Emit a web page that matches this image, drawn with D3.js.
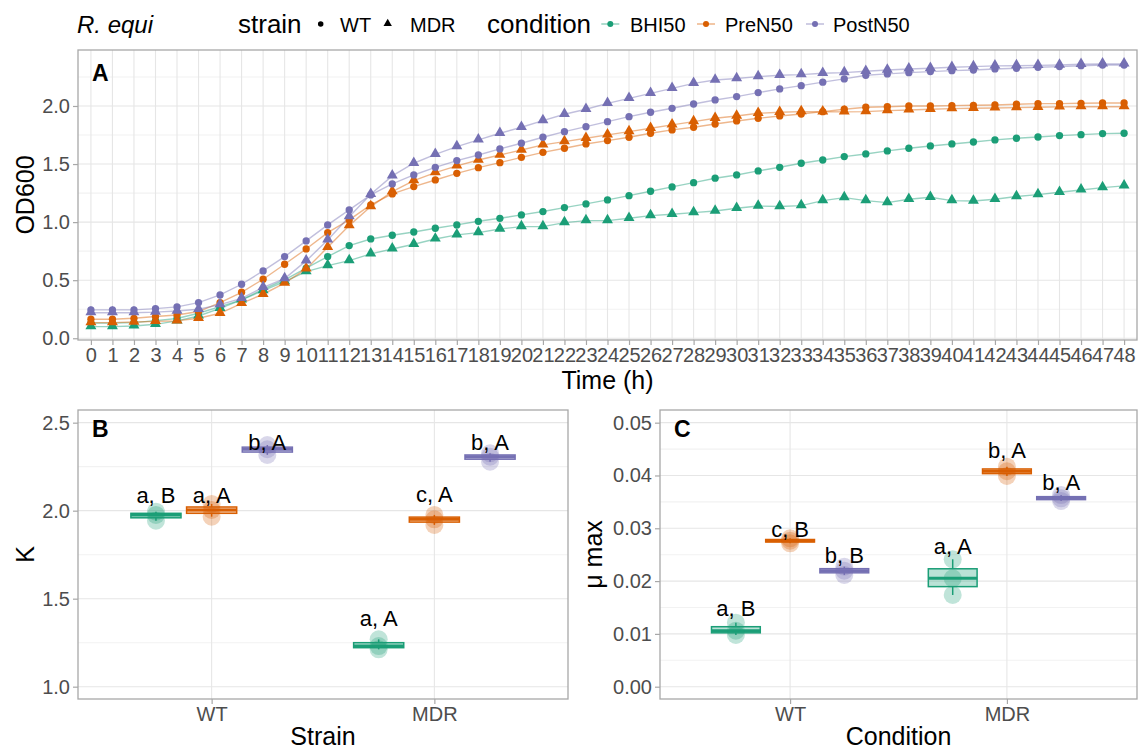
<!DOCTYPE html>
<html><head><meta charset="utf-8">
<script src="https://cdn.jsdelivr.net/npm/d3@7"></script>
<style>
body{margin:0;background:#fff;}
svg text{font-family:"Liberation Sans",Arial,sans-serif;}
</style></head>
<body><svg id="c" width="1140" height="751"></svg>
<script>
// ---------------- DATA ----------------
const times = [0,1,2,3,4,5,6,7,8,9,10,11,12,13,14,15,16,17,18,19,20,21,22,23,24,25,26,27,28,29,30,31,32,33,34,35,36,37,38,39,40,41,42,43,44,45,46,47,48];
const conditions = ["BHI50","PreN50","PostN50"];
const strains = ["WT","MDR"];
const condColors = {BHI50:"#1B9E77", PreN50:"#D95F02", PostN50:"#7570B3"};

const od_BHI50_WT = [0.13,0.13,0.135,0.152,0.17,0.215,0.273,0.33,0.422,0.502,0.603,0.703,0.798,0.855,0.887,0.915,0.947,0.976,
  1.007,1.033,1.062,1.091,1.125,1.157,1.191,1.228,1.266,1.303,1.34,1.378,1.406,1.441,1.472,1.507,1.535,
  1.564,1.587,1.613,1.636,1.656,1.673,1.69,1.708,1.722,1.733,1.745,1.753,1.762,1.765];
const od_BHI50_MDR = [0.10,0.10,0.106,0.12,0.15,0.192,0.258,0.33,0.41,0.488,0.574,0.626,0.669,0.726,0.769,0.809,0.855,0.89,
  0.91,0.941,0.961,0.961,0.996,1.013,1.013,1.033,1.056,1.068,1.082,1.096,1.119,1.139,1.134,1.142,1.185,
  1.211,1.185,1.168,1.197,1.214,1.185,1.182,1.197,1.22,1.237,1.257,1.277,1.297,1.312];
const od_PreN50_WT = [0.164,0.164,0.172,0.187,0.20,0.23,0.307,0.396,0.508,0.637,0.769,0.91,1.019,1.148,1.243,1.306,1.363,1.42,
  1.469,1.512,1.558,1.601,1.636,1.673,1.702,1.731,1.765,1.794,1.817,1.845,1.871,1.894,1.914,1.931,1.951,
  1.972,1.989,1.994,2.0,2.0,2.003,2.006,2.009,2.015,2.02,2.02,2.023,2.026,2.026];
const od_PreN50_MDR = [0.135,0.135,0.14,0.145,0.15,0.172,0.215,0.301,0.379,0.474,0.597,0.783,0.97,1.134,1.263,1.357,1.426,1.484,
  1.535,1.578,1.621,1.665,1.693,1.722,1.751,1.779,1.808,1.837,1.865,1.894,1.914,1.937,1.946,1.951,1.95,
  1.949,1.951,1.96,1.966,1.972,1.977,1.98,1.983,1.986,1.989,1.992,1.994,1.994,1.994];
const od_PostN50_WT = [0.244,0.244,0.244,0.255,0.27,0.307,0.373,0.465,0.58,0.703,0.838,0.976,1.105,1.234,1.329,1.406,1.472,1.53,
  1.578,1.63,1.679,1.731,1.779,1.822,1.865,1.908,1.946,1.98,2.017,2.052,2.081,2.115,2.147,2.175,2.205,
  2.233,2.264,2.276,2.287,2.296,2.304,2.31,2.319,2.325,2.333,2.339,2.347,2.353,2.353];
const od_PostN50_MDR = [0.22,0.22,0.22,0.225,0.235,0.25,0.29,0.344,0.439,0.514,0.666,0.847,1.047,1.24,1.398,1.507,1.584,1.65,
  1.708,1.765,1.817,1.874,1.929,1.972,2.023,2.066,2.109,2.152,2.195,2.224,2.236,2.253,2.264,2.27,2.282,
  2.287,2.299,2.31,2.319,2.325,2.333,2.339,2.345,2.347,2.35,2.353,2.359,2.362,2.362];

// Panel B: K replicates
const K_BHI50_WT = [1.994,1.976,1.943];
const K_PreN50_WT = [2.038,2.004,1.966];
const K_PostN50_WT = [2.373,2.349,2.317];
const K_BHI50_MDR = [1.269,1.231,1.212];
const K_PreN50_MDR = [1.976,1.951,1.919];
const K_PostN50_MDR = [2.326,2.307,2.278];
const K_labels = ["a, B","a, A","b, A","a, A","c, A","b, A"];
const K_labelY = [2.089,2.089,2.392,1.389,2.093,2.392];

// Panel C: mu max replicates
const mu_BHI50_WT = [0.01212,0.0106,0.0098];
const mu_PreN50_WT = [0.0281,0.02765,0.02715];
const mu_PostN50_WT = [0.02273,0.02197,0.02116];
const mu_BHI50_MDR = [0.02413,0.02053,0.01737];
const mu_PreN50_MDR = [0.04167,0.0408,0.0399];
const mu_PostN50_MDR = [0.0363,0.03568,0.03517];
const mu_labels = ["a, B","c, B","b, B","a, A","b, A","b, A"];
const mu_labelY = [0.01485,0.0298,0.0249,0.0267,0.0448,0.0388];

const odTicks = [0,0.5,1,1.5,2];
const odMinor = [0.25,0.75,1.25,1.75,2.25];
const kTicks = [1,1.5,2,2.5];
const kMinor = [1.25,1.75,2.25];
const muTicks = [0,0.01,0.02,0.03,0.04,0.05];
const muMinor = [0.005,0.015,0.025,0.035,0.045];

// ---------------- DRAW ----------------
const svg = d3.select("#c");
const BORDER = "#A8A8A8", GRID = "#E6E6E6", GRIDMIN = "#F2F2F2", TICKC = "#4D4D4D";

const growth = [
  {cond:"BHI50",strain:"WT",vals:od_BHI50_WT},
  {cond:"BHI50",strain:"MDR",vals:od_BHI50_MDR},
  {cond:"PreN50",strain:"WT",vals:od_PreN50_WT},
  {cond:"PreN50",strain:"MDR",vals:od_PreN50_MDR},
  {cond:"PostN50",strain:"WT",vals:od_PostN50_WT},
  {cond:"PostN50",strain:"MDR",vals:od_PostN50_MDR}
];

function panelFrame(g, x0, x1, y0, y1){
  g.append("rect").attr("x",x0).attr("y",y0).attr("width",x1-x0).attr("height",y1-y0)
    .attr("fill","none").attr("stroke",BORDER).attr("stroke-width",1.3);
}
function hGrid(g, y, vals, x0, x1, col){
  g.selectAll(null).data(vals).enter().append("line")
    .attr("x1",x0).attr("x2",x1).attr("y1",d=>y(d)).attr("y2",d=>y(d))
    .attr("stroke",col).attr("stroke-width",1.1);
}
function yAxis(g, y, vals, x0, fmt){
  const ax = d3.axisLeft(y).tickValues(vals).tickFormat(fmt).tickSize(5).tickPadding(3);
  const a = g.append("g").attr("transform",`translate(${x0},0)`).call(ax);
  a.select(".domain").remove();
  a.selectAll(".tick line").attr("stroke",BORDER).attr("stroke-width",1.2);
  a.selectAll(".tick text").attr("fill",TICKC).attr("font-size",20).attr("font-family","Liberation Sans, Arial, sans-serif");
}
function xAxis(g, x, y0, fmt){
  const ax = d3.axisBottom(x).tickSize(5).tickPadding(3);
  if(fmt) ax.tickFormat(fmt);
  const a = g.append("g").attr("transform",`translate(0,${y0})`).call(ax);
  a.select(".domain").remove();
  a.selectAll(".tick line").attr("stroke",BORDER).attr("stroke-width",1.2);
  a.selectAll(".tick text").attr("fill",TICKC).attr("font-size",20).attr("font-family","Liberation Sans, Arial, sans-serif");
}
function yTitle(g, text, cx, cy){
  g.append("text").attr("transform",`translate(${cx+9},${cy}) rotate(-90)`)
    .attr("text-anchor","middle").attr("font-size",25).attr("fill","#000").text(text);
}
function xTitle(g, text, cx, by){
  g.append("text").attr("x",cx).attr("y",by).attr("text-anchor","middle")
    .attr("font-size",25).attr("fill","#000").text(text);
}
function tag(g, text, x, y){
  g.append("text").attr("x",x).attr("y",y).attr("font-size",23).attr("font-weight","bold").attr("fill","#000").text(text);
}

// ---- Panel A ----
{
  const L=78,R=1137,T=50,B=340;
  const g = svg.append("g");
  const x = d3.scalePoint().domain(times).range([L,R]).padding(0.6);
  const y = d3.scaleLinear().domain([-0.015,2.482]).range([B,T]);
  hGrid(g,y,odMinor,L,R,GRIDMIN);
  hGrid(g,y,odTicks,L,R,GRID);
  g.selectAll(null).data(times).enter().append("line")
    .attr("x1",d=>x(d)).attr("x2",d=>x(d)).attr("y1",T).attr("y2",B)
    .attr("stroke",GRID).attr("stroke-width",1.1);
  const line = d3.line().x((d,i)=>x(times[i])).y(d=>y(d));
  g.selectAll(null).data(growth).enter().append("path")
    .attr("d",d=>line(d.vals)).attr("fill","none")
    .attr("stroke",d=>condColors[d.cond]).attr("stroke-opacity",0.45).attr("stroke-width",1.4);
  const circ = d3.symbol().type(d3.symbolCircle).size(42)();
  const tri = d3.symbol().type(d3.symbolTriangle).size(52)();
  growth.forEach(s=>{
    g.selectAll(null).data(s.vals).enter().append("path")
      .attr("d", s.strain==="WT"?circ:tri)
      .attr("transform",(d,i)=>`translate(${x(times[i])},${y(d)+(s.strain==="WT"?0:-0.5)})`)
      .attr("fill",condColors[s.cond]);
  });
  panelFrame(g,L,R,T,B);
  yAxis(g,y,odTicks,L,d3.format(".1f"));
  xAxis(g,x,B);
  yTitle(g,"OD600",25,(T+B)/2);
  xTitle(g,"Time (h)",(L+R)/2,389);
  tag(g,"A",92,81);
}

// ---- Box panels ----
function boxPanel(L,R,T,B,domain,ticks,minor,fmt,groups,labels,labelY,xt,yt,yTitleX,tg){
  const g = svg.append("g");
  const x = d3.scalePoint().domain(strains).range([L,R]).padding(0.6);
  const y = d3.scaleLinear().domain(domain).range([B,T]);
  hGrid(g,y,minor,L,R,GRIDMIN);
  hGrid(g,y,ticks,L,R,GRID);
  g.selectAll(null).data(strains).enter().append("line")
    .attr("x1",d=>x(d)).attr("x2",d=>x(d)).attr("y1",T).attr("y2",B)
    .attr("stroke",GRID).attr("stroke-width",1.1);
  const step = x.step();
  const bw = step*0.225;
  groups.forEach((gr,i)=>{
    const ci = conditions.indexOf(gr.cond);
    const cx = x(gr.strain) + (ci-1)*step*0.25;
    const col = condColors[gr.cond];
    const v = gr.vals.slice().sort(d3.ascending);
    const q1 = d3.quantile(v,0.25), med = d3.quantile(v,0.5), q3 = d3.quantile(v,0.75);
    const lo = d3.min(v), hi = d3.max(v);
    const gg = g.append("g");
    gg.append("line").attr("x1",cx).attr("x2",cx).attr("y1",y(hi)).attr("y2",y(q3)).attr("stroke",col).attr("stroke-width",1.5);
    gg.append("line").attr("x1",cx).attr("x2",cx).attr("y1",y(q1)).attr("y2",y(lo)).attr("stroke",col).attr("stroke-width",1.5);
    gg.append("rect").attr("x",cx-bw/2).attr("width",bw).attr("y",y(q3)).attr("height",Math.max(0.5,y(q1)-y(q3)))
      .attr("fill",col).attr("fill-opacity",0.3).attr("stroke",col).attr("stroke-width",1.5);
    gg.append("line").attr("x1",cx-bw/2).attr("x2",cx+bw/2).attr("y1",y(med)).attr("y2",y(med)).attr("stroke",col).attr("stroke-width",3);
    gg.selectAll(null).data(gr.vals).enter().append("circle")
      .attr("cx",cx).attr("cy",d=>y(d)).attr("r",9).attr("fill",col).attr("fill-opacity",0.28);
    g.append("text").attr("x",cx).attr("y",y(labelY[i])+8).attr("text-anchor","middle")
      .attr("font-size",22).attr("fill","#000").text(labels[i]);
  });
  panelFrame(g,L,R,T,B);
  yAxis(g,y,ticks,L,fmt);
  xAxis(g,x,B);
  yTitle(g,yt,yTitleX,(T+B)/2);
  xTitle(g,xt,(L+R)/2,745);
  tag(g,tg,L+14,437);
}

boxPanel(78,568,410,699,[0.93,2.572],kTicks,kMinor,d3.format(".1f"),[
  {cond:"BHI50",strain:"WT",vals:K_BHI50_WT},
  {cond:"PreN50",strain:"WT",vals:K_PreN50_WT},
  {cond:"PostN50",strain:"WT",vals:K_PostN50_WT},
  {cond:"BHI50",strain:"MDR",vals:K_BHI50_MDR},
  {cond:"PreN50",strain:"MDR",vals:K_PreN50_MDR},
  {cond:"PostN50",strain:"MDR",vals:K_PostN50_MDR}
],K_labels,K_labelY,"Strain","K",25,"B");

boxPanel(660,1137,410,699,[-0.00233,0.0524],muTicks,muMinor,d3.format(".2f"),[
  {cond:"BHI50",strain:"WT",vals:mu_BHI50_WT},
  {cond:"PreN50",strain:"WT",vals:mu_PreN50_WT},
  {cond:"PostN50",strain:"WT",vals:mu_PostN50_WT},
  {cond:"BHI50",strain:"MDR",vals:mu_BHI50_MDR},
  {cond:"PreN50",strain:"MDR",vals:mu_PreN50_MDR},
  {cond:"PostN50",strain:"MDR",vals:mu_PostN50_MDR}
],mu_labels,mu_labelY,"Condition","\u03bc max",593,"C");

// ---- Legend (top) ----
{
  const g = svg.append("g");
  g.append("text").attr("x",77).attr("y",33).attr("font-size",24).attr("font-style","italic")
    .attr("font-family","DejaVu Sans, sans-serif").attr("fill","#000").text("R. equi");
  g.append("text").attr("x",238).attr("y",33).attr("font-size",26).attr("fill","#000").text("strain");
  const sx = [320.7,387.7], sl=[340,410];
  strains.forEach((s,i)=>{
    g.append("path").attr("d",d3.symbol().type(i===0?d3.symbolCircle:d3.symbolTriangle).size(i===0?24:30)())
      .attr("transform",`translate(${sx[i]},${i===0?24:23.5})`).attr("fill","#000");
    g.append("text").attr("x",sl[i]).attr("y",32).attr("font-size",20).attr("fill","#000").text(s);
  });
  g.append("text").attr("x",487).attr("y",33).attr("font-size",26).attr("fill","#000").text("condition");
  const kx=[610.3,706,815], tx=[630,725,833];
  conditions.forEach((c,i)=>{
    g.append("line").attr("x1",kx[i]-9).attr("x2",kx[i]+9).attr("y1",24).attr("y2",24)
      .attr("stroke",condColors[c]).attr("stroke-opacity",0.5).attr("stroke-width",1.4);
    g.append("circle").attr("cx",kx[i]).attr("cy",24).attr("r",3).attr("fill",condColors[c]);
    g.append("text").attr("x",tx[i]).attr("y",32).attr("font-size",20).attr("fill","#000").text(c);
  });
}
</script></body></html>
